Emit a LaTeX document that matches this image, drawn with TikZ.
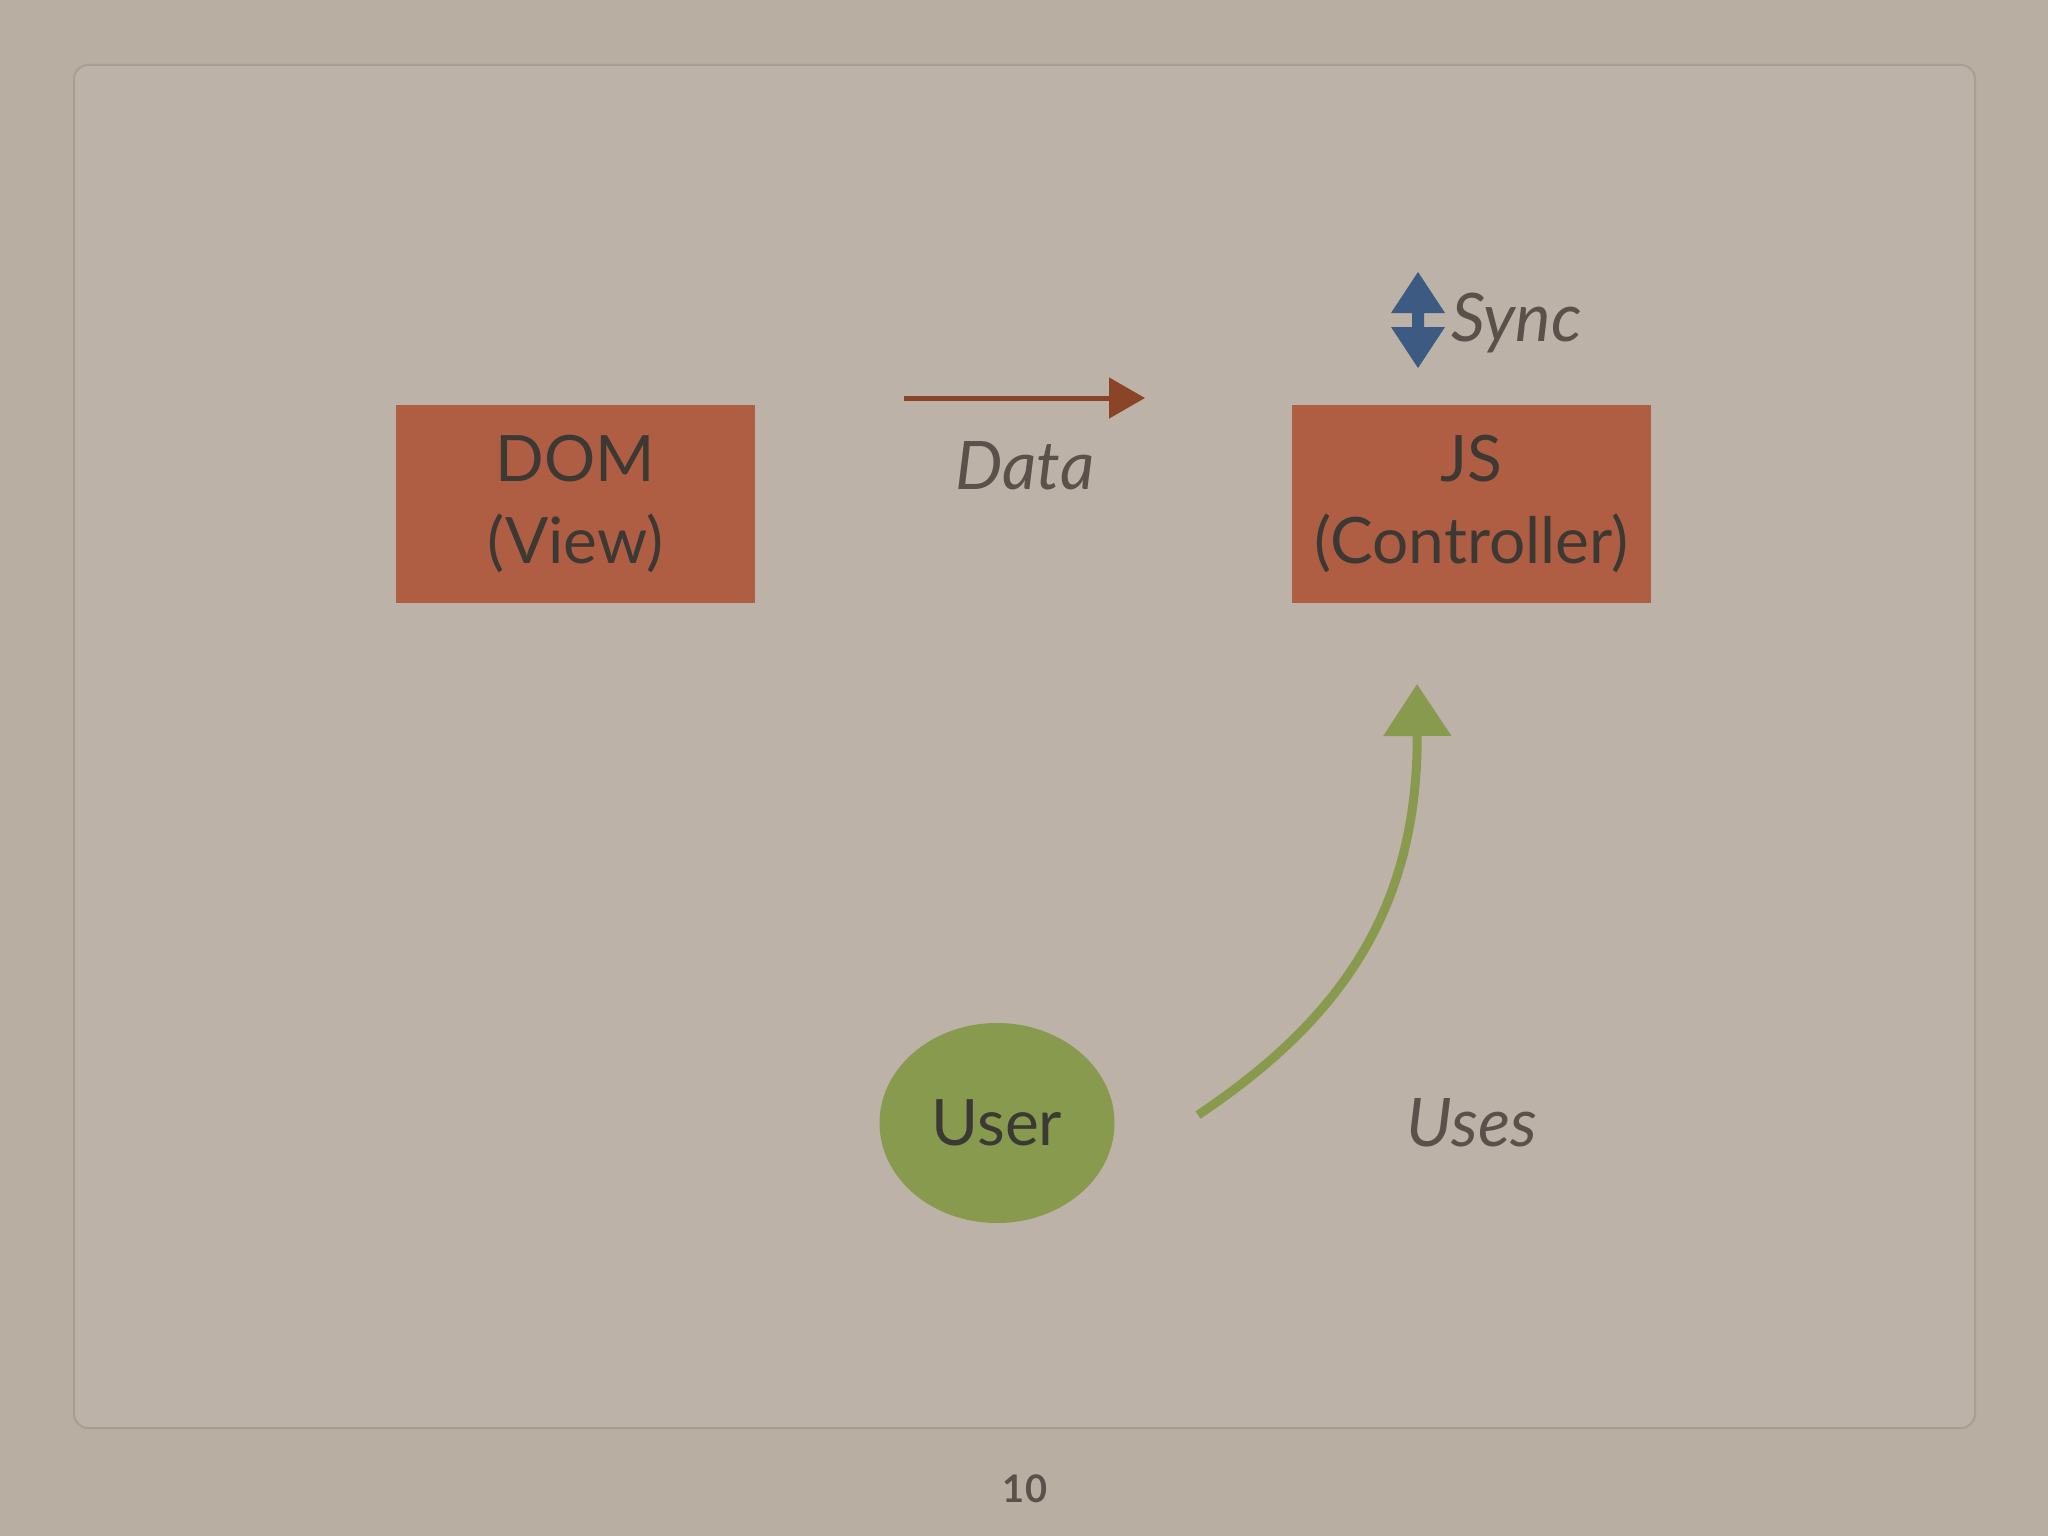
\documentclass[tikz,border=0pt]{standalone}
\usepackage{fontspec}
\setmainfont{Lato}
\usetikzlibrary{arrows.meta,shapes.geometric}
\definecolor{paper}{HTML}{B8AEA2}
\definecolor{inner}{HTML}{BCB2A7}
\definecolor{edge}{HTML}{A89E92}
\definecolor{rust}{HTML}{B05E43}
\definecolor{ink}{HTML}{3C3834}
\definecolor{label}{HTML}{5A514A}
\definecolor{leaf}{HTML}{879A4E}
\definecolor{navy}{HTML}{3D5A82}
\definecolor{brownarrow}{HTML}{8A4529}
\tikzset{
  boxnode/.style={fill=rust, minimum width=359pt, minimum height=198pt, inner sep=0pt,
    align=center, text=ink, font=\fontsize{64}{82}\selectfont},
  lbl/.style={text=label, font=\fontsize{67}{78}\selectfont\itshape, inner sep=0pt},
  usernode/.style={ellipse, fill=leaf, minimum width=235pt, minimum height=200pt, inner sep=0pt,
    text=ink, font=\fontsize{64}{76}\selectfont},
}
\begin{document}
\begin{tikzpicture}[x=1pt,y=-1pt]
\useasboundingbox (0,0) rectangle (2048,1536);
\fill[paper] (0,0) rectangle (2048,1536);
\draw[edge, line width=2pt, fill=inner, rounded corners=14pt] (74,65) rectangle (1975,1428);
\node[boxnode] (dom) at (575.5,504) {DOM\\(View)};
\node[boxnode] (js) at (1471.5,504) {JS\\(Controller)};
\coordinate (ds) at (904,398);
\coordinate (de) at (1145,398);
\draw[brownarrow, line width=5pt, -{Triangle[length=36pt,width=40pt]}] (ds) -- (de);
\node[lbl] (data) at (1025,466) {Data};
\fill[navy] (1418,272) -- (1445,313) -- (1424,313) -- (1424,327) -- (1445,327) -- (1418,368)
  -- (1391,327) -- (1412,327) -- (1412,313) -- (1391,313) -- cycle;
\node[lbl, anchor=west] (sync) at (1451,323) {Sync};
\node[usernode] (user) at (997,1123) {User};
\coordinate (us) at (1198,1115);
\coordinate (ue) at (1417,684);
\draw[leaf, line width=9pt, -{Triangle[length=52pt,width=66pt]}] (us) .. controls (1340,1020) and (1418,910) .. (ue);
\node[lbl] (uses) at (1472,1123) {Uses};
\node[text=label, font=\fontsize{38}{44}\selectfont\bfseries] (page) at (1025,1489) {10};
\end{tikzpicture}
\end{document}
